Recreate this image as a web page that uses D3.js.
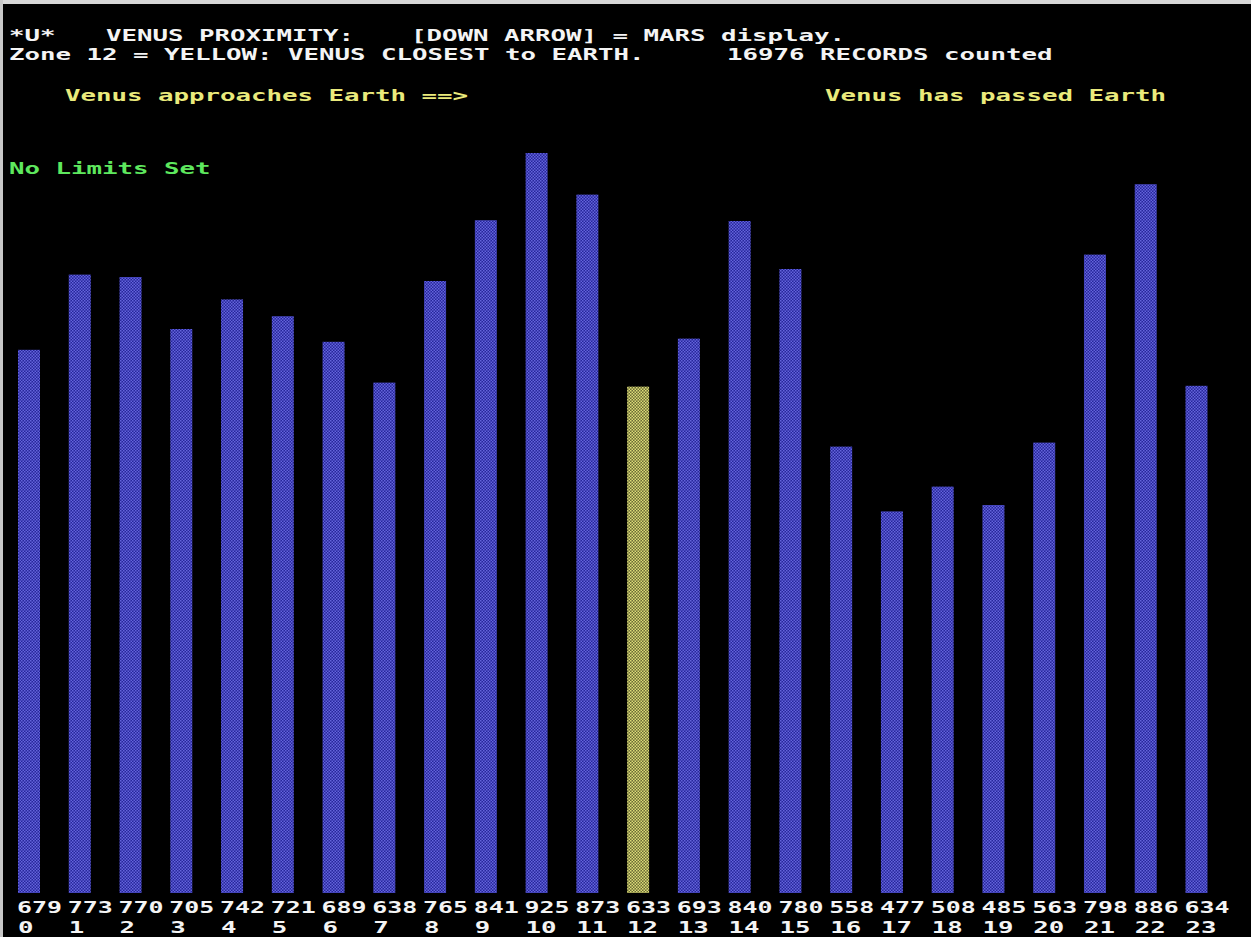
<!DOCTYPE html>
<html>
<head>
<meta charset="utf-8">
<script src="https://cdn.jsdelivr.net/npm/d3@7"></script>
<style>
  html, body { margin: 0; padding: 0; background: #000; overflow: hidden; }
  svg { display: block; }
  text { font-family: "DejaVu Sans Mono", "Liberation Mono", monospace; font-weight: bold; }
</style>
</head>
<body>
<svg id="chart" width="1251" height="937"></svg>
<script>
// ---- data ----
const zones = d3.range(0, 24);
const counts = [679, 773, 770, 705, 742, 721, 689, 638, 765, 841, 925, 873,
                633, 693, 840, 780, 558, 477, 508, 485, 563, 798, 886, 634];
const highlightZone = 12;
const titleLine1 = [["*U*", 9], ["VENUS PROXIMITY:", 106], ["[DOWN ARROW] = MARS display.", 411]];
const titleLine2 = [["Zone 12 = YELLOW: VENUS CLOSEST to EARTH.", 9], ["16976 RECORDS counted", 727]];
const noteLeft = "Venus approaches Earth ==>";
const noteRight = "Venus has passed Earth";
const limitsText = "No Limits Set";

// ---- layout ----
const W = 1251, H = 937;
const CH = 15.5;              // character pitch
const FS = 16;                // font size
const baseY = 893;            // bar baseline
const svg = d3.select("#chart");

svg.append("rect").attr("width", W).attr("height", H).attr("fill", "#000");
// screenshot frame
svg.append("rect").attr("x", 0).attr("y", 0).attr("width", W).attr("height", 4).attr("fill", "#d8d8d8");
svg.append("rect").attr("x", 0).attr("y", 0).attr("width", 3).attr("height", H).attr("fill", "#c8c8c8");

// dither patterns
const defs = svg.append("defs");
function dither(id, light, dark) {
  const p = defs.append("pattern").attr("id", id).attr("patternUnits", "userSpaceOnUse")
    .attr("width", 3).attr("height", 3);
  p.append("rect").attr("width", 3).attr("height", 3).attr("fill", dark);
  p.append("rect").attr("x", 0).attr("y", 0).attr("width", 1.5).attr("height", 1.5).attr("fill", light);
  p.append("rect").attr("x", 1.5).attr("y", 1.5).attr("width", 1.5).attr("height", 1.5).attr("fill", light);
}
dither("blueDither", "#6464dc", "#26269a");
dither("yellowDither", "#dcdc78", "#6a6a34");

// scales
const step = 50.76, barW = 22;
const pInner = 1 - barW / step;
const x = d3.scaleBand().domain(zones).range([18, 18 + step * (zones.length - pInner)])
  .paddingInner(pInner).paddingOuter(0);
const y = d3.scaleLinear().domain([0, 1000]).range([baseY, baseY - 800]);

// bars
svg.append("g").selectAll("rect").data(zones).join("rect")
  .attr("x", d => x(d))
  .attr("y", d => y(counts[d]))
  .attr("width", x.bandwidth())
  .attr("height", d => baseY - y(counts[d]))
  .attr("fill", d => d === highlightZone ? "url(#yellowDither)" : "url(#blueDither)");

// text helper: stretch monospace glyphs to the CGA character pitch
function monoText(str, tx, ty, color, pitch) {
  return svg.append("text")
    .attr("x", tx).attr("y", ty)
    .attr("fill", color)
    .attr("font-size", FS)
    .attr("textLength", str.length * (pitch || CH))
    .attr("lengthAdjust", "spacingAndGlyphs")
    .attr("xml:space", "preserve")
    .style("white-space", "pre")
    .text(str);
}

titleLine1.forEach(([s, tx]) => monoText(s, tx, 40.5, "#f4f4f4"));
titleLine2.forEach(([s, tx]) => monoText(s, tx, 59.5, "#f4f4f4"));
monoText(noteLeft, 65, 101, "#eaea7c");
monoText(noteRight, 825, 101, "#eaea7c");
monoText(limitsText, 9, 174, "#5ee85e");

// value and zone labels (axis-like rows under the bars)
zones.forEach(d => {
  const lx = x(d) - 1;
  monoText(String(counts[d]), lx, 913, "#f4f4f4", 15);
  monoText(String(d), lx + 1, 932.5, "#f4f4f4", 15.5);
});
</script>
</body>
</html>
